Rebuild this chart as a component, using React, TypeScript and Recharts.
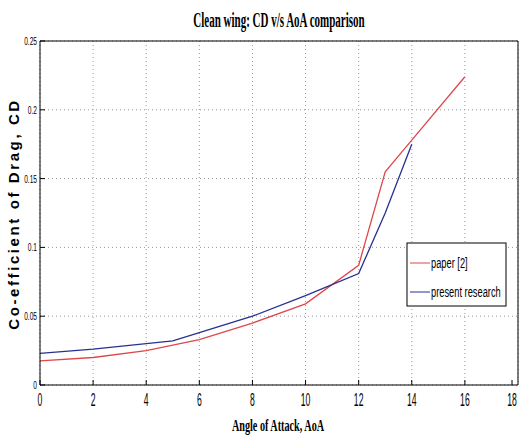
import { CartesianGrid, Line, LineChart, XAxis, YAxis } from 'recharts'

const paperAoA = [0, 2, 4, 6, 8, 10, 12, 13, 14, 16]
const paperCD = [0.0175, 0.02, 0.025, 0.033, 0.045, 0.059, 0.087, 0.155, 0.178, 0.224]

const presentAoA = [0, 2, 4, 5, 6, 8, 10, 12, 13, 14]
const presentCD = [0.023, 0.026, 0.03, 0.032, 0.038, 0.05, 0.065, 0.081, 0.125, 0.175]

const xTicks = [0, 2, 4, 6, 8, 10, 12, 14, 16, 18]
const yTicks = [0, 0.05, 0.1, 0.15, 0.2, 0.25]

const paperData = paperAoA.map((aoa, i) => ({ aoa, cd: paperCD[i] }))
const presentData = presentAoA.map((aoa, i) => ({ aoa, cd: presentCD[i] }))

const RED = '#e0474a'
const BLUE = '#27318f'
const sans = '"Liberation Sans", Arial, sans-serif'
const serif = '"Liberation Serif", "Times New Roman", serif'

// the source figure is squashed sideways, so text is drawn narrowed
function Narrow({ x, y, sx, anchor, size, bold, children }: any) {
  return (
    <g transform={`translate(${x},${y}) scale(${sx},1)`}>
      <text x={0} y={0} textAnchor={anchor} fontFamily={sans} fontSize={size} fontWeight={bold ? 'bold' : 'normal'} fill="#000">
        {children}
      </text>
    </g>
  )
}

function XTick(props: any) {
  const { x, y, payload } = props
  return (
    <g>
      <line x1={x} x2={x} y1={y - 8} y2={y - 13} stroke="#000" />
      <Narrow x={x} y={y + 13} sx={0.48} anchor="middle" size={18}>
        {payload.value}
      </Narrow>
    </g>
  )
}

function YTick(props: any) {
  const { x, y, payload } = props
  return (
    <g>
      <line x1={x + 4} x2={x + 9} y1={y} y2={y} stroke="#000" />
      <Narrow x={x + 1} y={y + 4} sx={0.6} anchor="end" size={11}>
        {payload.value}
      </Narrow>
    </g>
  )
}

function TopTick(props: any) {
  const { x, y } = props
  return <line x1={x} x2={x} y1={y} y2={y + 5} stroke="#000" />
}

function RightTick(props: any) {
  const { x, y } = props
  return <line x1={x - 5} x2={x} y1={y} y2={y} stroke="#000" />
}

export default function App() {
  return (
    <div style={{ position: 'absolute', left: 0, top: 0, width: 520, height: 436, background: '#fff' }}>
      <LineChart width={520} height={436} margin={{ top: 40, right: 1, bottom: 21, left: 10 }}>
        <g transform="translate(279,27) scale(0.55,1)">
          <text x={0} y={0} textAnchor="middle" fontFamily={serif} fontWeight="bold" fontSize={20}>
            Clean wing: CD v/s AoA comparison
          </text>
        </g>
        <text
          x={19}
          y={214}
          textAnchor="middle"
          transform="rotate(-90 19 214)"
          fontFamily={sans}
          fontWeight="bold"
          fontSize={15}
          letterSpacing={2.6}
        >
          Co-efficient of Drag, CD
        </text>
        <g transform="translate(278,431) scale(0.6,1)">
          <text x={0} y={0} textAnchor="middle" fontFamily={serif} fontWeight="bold" fontSize={17}>
            Angle of Attack, AoA
          </text>
        </g>
        <CartesianGrid stroke="#999" strokeDasharray="1 3" />
        <XAxis
          type="number"
          dataKey="aoa"
          domain={[0, 18]}
          ticks={xTicks}
          height={30}
          stroke="#000"
          tickLine={false}
          tickSize={0}
          tickMargin={8}
          tick={<XTick />}
          allowDuplicatedCategory={false}
        />
        <XAxis
          xAxisId="top"
          orientation="top"
          type="number"
          domain={[0, 18]}
          ticks={xTicks}
          height={1}
          stroke="#000"
          tickLine={false}
          tickSize={0}
          tickMargin={0}
          tick={<TopTick />}
        />
        <YAxis
          type="number"
          dataKey="cd"
          domain={[0, 0.25]}
          ticks={yTicks}
          width={30}
          stroke="#000"
          tickLine={false}
          tickSize={0}
          tickMargin={4}
          tick={<YTick />}
        />
        <YAxis
          yAxisId="right"
          orientation="right"
          type="number"
          domain={[0, 0.25]}
          ticks={yTicks}
          width={1}
          stroke="#000"
          tickLine={false}
          tickSize={0}
          tickMargin={0}
          tick={<RightTick />}
        />
        <Line
          data={paperData}
          dataKey="cd"
          type="linear"
          stroke={RED}
          strokeWidth={1.3}
          dot={false}
          isAnimationActive={false}
        />
        <Line
          data={presentData}
          dataKey="cd"
          type="linear"
          stroke={BLUE}
          strokeWidth={1.3}
          dot={false}
          isAnimationActive={false}
        />
        <g>
          <rect x={407} y={243} width={99} height={63} fill="#fff" stroke="#000" />
          <line x1={410} x2={430} y1={263} y2={263} stroke={RED} />
          <Narrow x={431} y={268} sx={0.62} anchor="start" size={15}>
            paper [2]
          </Narrow>
          <line x1={410} x2={430} y1={292} y2={292} stroke={BLUE} />
          <Narrow x={431} y={297} sx={0.62} anchor="start" size={15}>
            present research
          </Narrow>
        </g>
      </LineChart>
    </div>
  )
}
